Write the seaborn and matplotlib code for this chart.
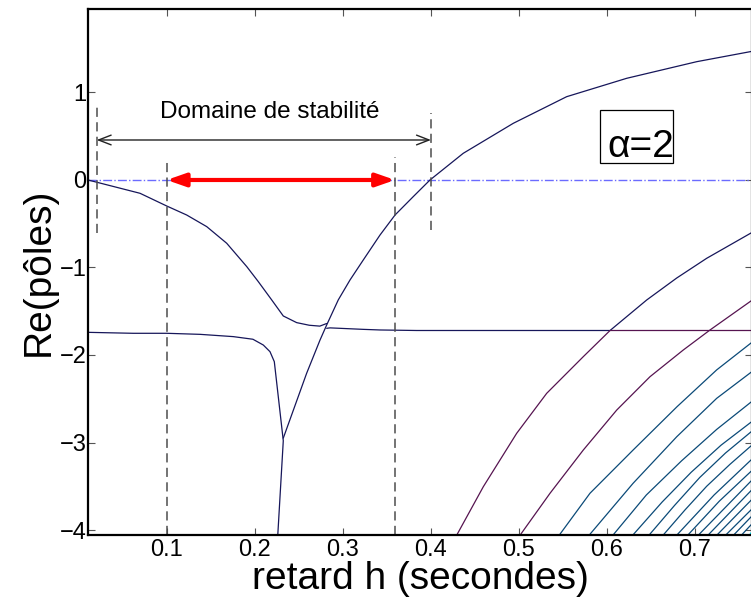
import numpy as np
import pandas as pd
import matplotlib
matplotlib.use("Agg")
import matplotlib.pyplot as plt
import seaborn as sns

# pole branches: h (seconds) vs Re(pole)
top_h = [0.0106, 0.0697, 0.1, 0.1227, 0.1455, 0.1682, 0.191, 0.204, 0.2193, 0.2325, 0.2477, 0.262, 0.274, 0.2818]
top_re = [0.0, -0.152, -0.297, -0.40, -0.533, -0.723, -0.99, -1.16, -1.37, -1.554, -1.63, -1.66, -1.67, -1.64]

rise_h = [0.2325, 0.259, 0.2742, 0.2818, 0.295, 0.3083, 0.3234, 0.3424, 0.3595, 0.3802, 0.3992, 0.437, 0.4939, 0.5545, 0.6227, 0.7023, 0.765]
rise_re = [-2.95, -2.21, -1.83, -1.657, -1.37, -1.143, -0.914, -0.629, -0.40, -0.19, 0.0, 0.305, 0.648, 0.952, 1.162, 1.352, 1.47]

flat_h = [0.0106, 0.062, 0.1, 0.138, 0.1757, 0.198, 0.2098, 0.2174, 0.2223, 0.2325, 0.226]
flat_re = [-1.741, -1.752, -1.752, -1.764, -1.79, -1.82, -1.886, -1.962, -2.076, -2.98, -4.10]

mid_h = [0.2818, 0.2856, 0.3234, 0.3424, 0.384, 0.45, 0.6038, 0.6455, 0.6796, 0.7136, 0.765]
mid_re = [-1.695, -1.69, -1.707, -1.714, -1.72, -1.72, -1.72, -1.371, -1.12, -0.895, -0.60]

purple1_h = [0.4295, 0.4598, 0.4977, 0.5318, 0.5734, 0.6038, 0.765]
purple1_re = [-4.06, -3.505, -2.895, -2.438, -2.019, -1.72, -1.72]

purple2_h = [0.5015, 0.5356, 0.5734, 0.6114, 0.6492, 0.687, 0.7174, 0.765]
purple2_re = [-4.06, -3.58, -3.086, -2.629, -2.248, -1.943, -1.714, -1.375]

fan_h = [
    [0.546, 0.581, 0.630, 0.680, 0.725, 0.765],
    [0.580, 0.630, 0.6796, 0.725, 0.765],
    [0.607, 0.645, 0.685, 0.725, 0.765],
    [0.6295, 0.663, 0.696, 0.730, 0.765],
    [0.648, 0.677, 0.7057, 0.735, 0.765],
    [0.664, 0.689, 0.7136, 0.740, 0.765],
    [0.6795, 0.722, 0.765],
    [0.692, 0.728, 0.765],
    [0.704, 0.765],
    [0.715, 0.765],
    [0.725, 0.765],
    [0.735, 0.765],
    [0.744, 0.765],
    [0.753, 0.765],
    [0.762, 0.765],
]
fan_re = [
    [-4.06, -3.58, -3.086, -2.59, -2.17, -1.855],
    [-4.06, -3.466, -2.934, -2.495, -2.19],
    [-4.06, -3.60, -3.21, -2.85, -2.53],
    [-4.06, -3.68, -3.34, -3.03, -2.76],
    [-4.06, -3.72, -3.40, -3.12, -2.87],
    [-4.06, -3.77, -3.50, -3.25, -3.03],
    [-4.06, -3.60, -3.19],
    [-4.06, -3.67, -3.32],
    [-4.06, -3.43],
    [-4.06, -3.54],
    [-4.06, -3.65],
    [-4.06, -3.76],
    [-4.06, -3.84],
    [-4.06, -3.93],
    [-4.06, -4.02],
]

# stability bounds
h_stab = [0.0205, 0.4003]
h_red = [0.1, 0.3595]

x_ticks = [0.1, 0.2, 0.3, 0.4, 0.5, 0.6, 0.7]
y_ticks = [-4, -3, -2, -1, 0, 1]

NAVY = "#16165a"
PURPLE = "#561450"
TEAL = "#0b4a78"
CYAN = "#00f0ff"
DASH_GREY = "#4d4d4d"

sns.set_style("ticks")
plt.rcParams["font.family"] = ["Liberation Sans", "DejaVu Sans"]
plt.rcParams["axes.unicode_minus"] = True
plt.rcParams["text.color"] = "black"
plt.rcParams["axes.labelcolor"] = "black"
plt.rcParams["xtick.labelcolor"] = "black"
plt.rcParams["ytick.labelcolor"] = "black"

fig = plt.figure(figsize=(7.51, 6.06), dpi=100)
ax = fig.add_axes([88 / 751, 71 / 606, 664 / 751, 526 / 606])
ax.set_xlim(0.0106, 0.7651)
ax.set_ylim(-4.057, 1.954)


def draw(h, re, color, lw=0.9):
    df = pd.DataFrame({"h": h, "re": re})
    sns.lineplot(data=df, x="h", y="re", sort=False, estimator=None,
                 color=color, lw=lw, ax=ax)


# zero line
ax.axhline(0, color="#6b6bff", lw=1.0, ls="-.", zorder=1)

draw(top_h, top_re, NAVY)
draw(rise_h, rise_re, NAVY)
draw(flat_h, flat_re, NAVY)
draw(mid_h, mid_re, NAVY)
draw(purple1_h, purple1_re, PURPLE)
draw(purple2_h, purple2_re, PURPLE)
for i, (h, re) in enumerate(zip(fan_h, fan_re)):
    draw(h, re, CYAN if i == len(fan_h) - 1 else TEAL)

# dashed markers
dash = (0, (6, 3.5))
ax.plot([h_stab[0], h_stab[0]], [-0.61, 0.84], color=DASH_GREY, lw=1.1, ls=dash)
ax.plot([h_stab[1], h_stab[1]], [-0.57, 0.76], color=DASH_GREY, lw=1.1, ls=dash)
ax.plot([h_red[0], h_red[0]], [-4.057, 0.25], color=DASH_GREY, lw=1.1, ls=dash)
ax.plot([h_red[1], h_red[1]], [-4.057, 0.26], color=DASH_GREY, lw=1.1, ls=dash)

ax.annotate("", xy=(h_stab[1], 0.457), xytext=(h_stab[0], 0.457),
            arrowprops=dict(arrowstyle="<->,head_length=0.9,head_width=0.35",
                            color="#222222", lw=1.0, shrinkA=0, shrinkB=0))
ax.annotate("", xy=(h_red[1], 0.0), xytext=(h_red[0], 0.0),
            arrowprops=dict(arrowstyle="<|-|>,head_length=0.8,head_width=0.28",
                            color="red", lw=3.0, shrinkA=0, shrinkB=0,
                            mutation_scale=14))
ax.text(0.2175, 0.78, "Domaine de stabilité", fontsize=17.5,
        ha="center", va="center")

# alpha box
ax.add_patch(plt.Rectangle((0.5924, 0.191), 0.0833, 0.609, fill=False,
                           ec="black", lw=0.9, zorder=5))
ax.text(0.6765, 0.266, "α=2", fontsize=28, ha="right", va="baseline")

ax.set_xticks(x_ticks)
ax.set_xticklabels([f"{v:g}" for v in x_ticks])
ax.set_yticks(y_ticks)
ax.set_yticklabels([f"{v:d}".replace("-", "\u2212") for v in y_ticks])
ax.tick_params(direction="in", length=5, width=0.8, color="#555555",
               labelsize=17, labelcolor="black", top=True, right=True, pad=3)
ax.tick_params(axis="y", pad=1)
for s in ax.spines.values():
    s.set_linewidth(1.6)
    s.set_color("black")

ax.set_xlabel("retard h (secondes)", fontsize=28, labelpad=0)
ax.set_ylabel("Re(pôles)", fontsize=28, labelpad=2)

fig.savefig("out.png", dpi=100)
